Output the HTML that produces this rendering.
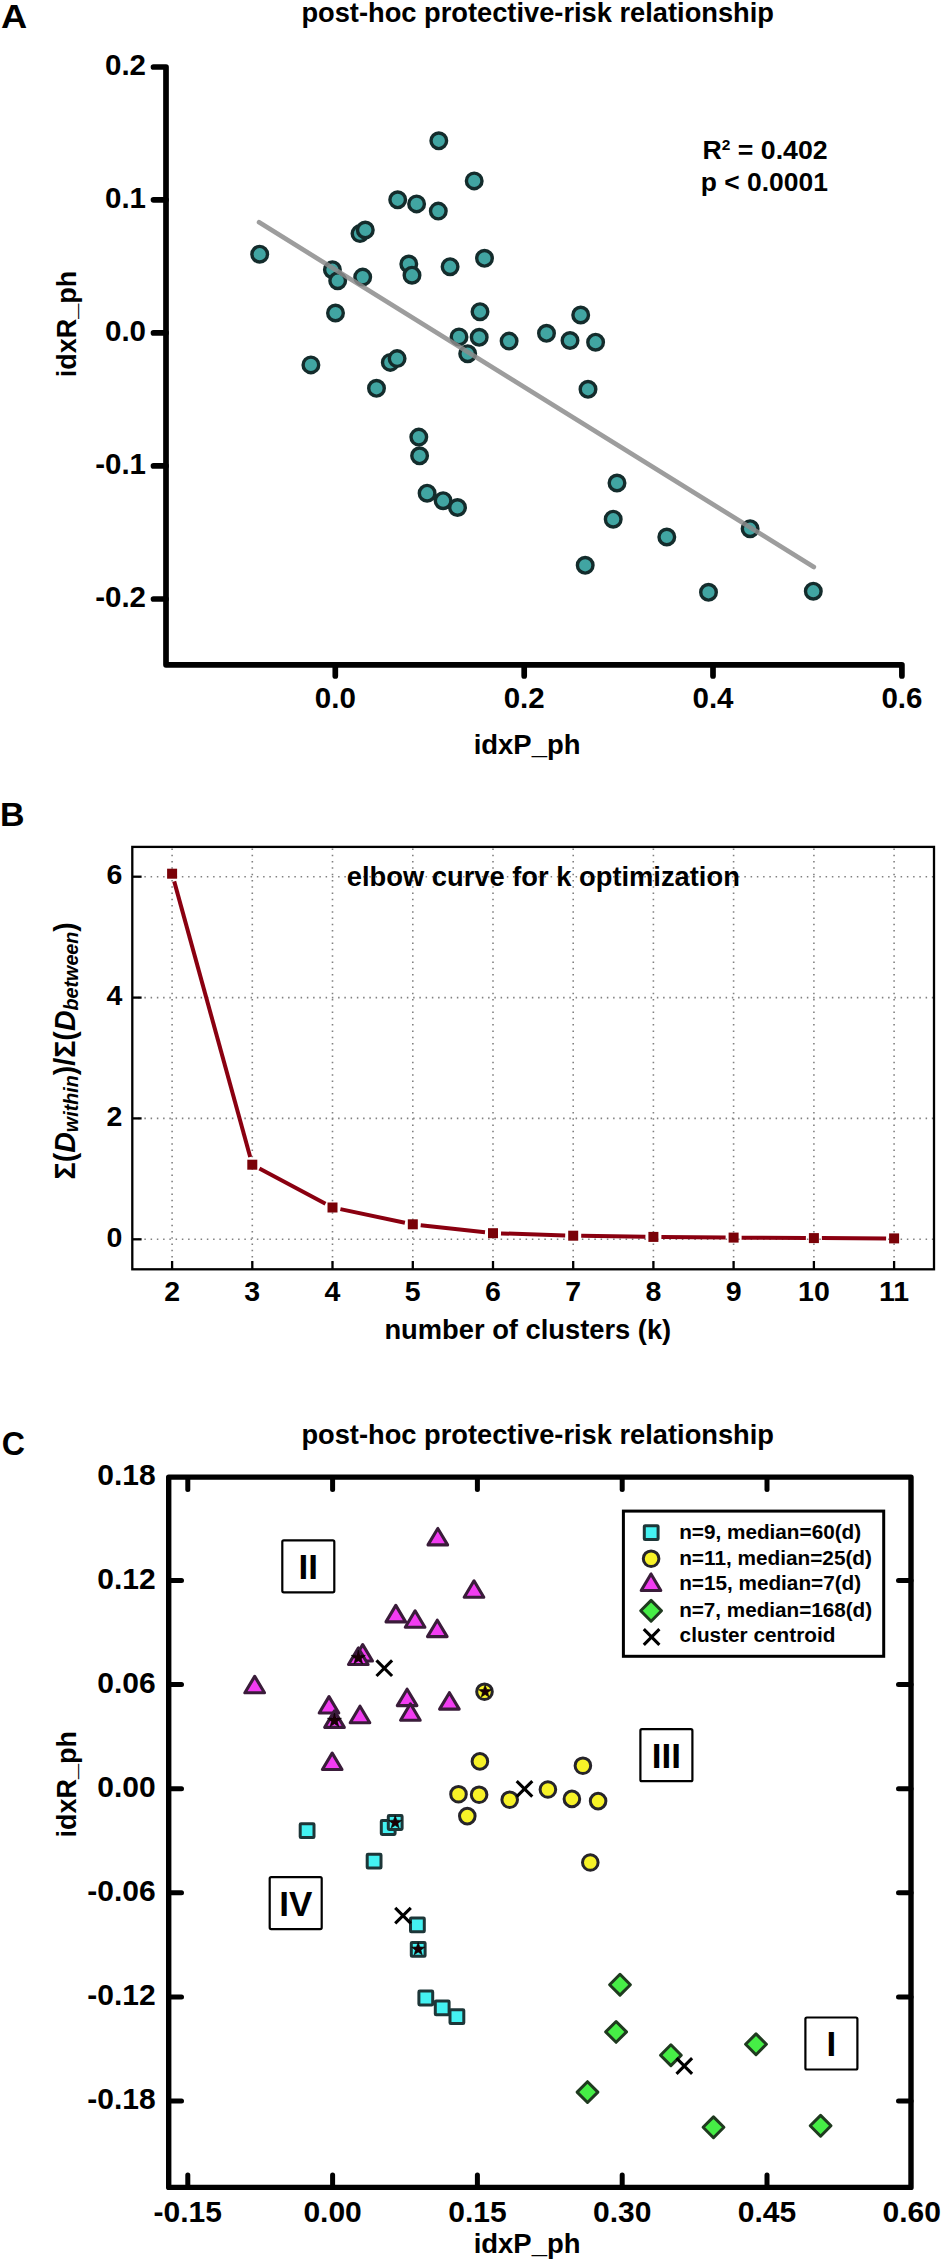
<!DOCTYPE html>
<html><head><meta charset="utf-8"><style>
html,body{margin:0;padding:0;background:#fff;}
svg{display:block;}

</style></head><body>
<svg width="942" height="2262" viewBox="0 0 942 2262">
<rect width="942" height="2262" fill="#fff"/>
<text id="lblA" x="0.97" y="27.70" font-family="Liberation Sans, sans-serif" font-weight="bold" font-size="34" textLength="26.20" lengthAdjust="spacingAndGlyphs">A</text>
<text id="titleA" x="301.40" y="22.40" font-family="Liberation Sans, sans-serif" font-weight="bold" font-size="27.2" textLength="472.61" lengthAdjust="spacingAndGlyphs">post-hoc protective-risk relationship</text>
<path d="M153.5 67 H166 V664.8 H901.9 V676" fill="none" stroke="#000" stroke-width="5.7" stroke-linejoin="round" stroke-linecap="round"/>
<text x="146" y="74.8" font-family="Liberation Sans, sans-serif" font-weight="bold" font-size="29.5" text-anchor="end">0.2</text>
<line x1="153.5" y1="199.8" x2="166" y2="199.8" stroke="#000" stroke-width="5.7" stroke-linecap="round"/>
<text x="146" y="207.8" font-family="Liberation Sans, sans-serif" font-weight="bold" font-size="29.5" text-anchor="end">0.1</text>
<line x1="153.5" y1="332.9" x2="166" y2="332.9" stroke="#000" stroke-width="5.7" stroke-linecap="round"/>
<text x="146" y="340.9" font-family="Liberation Sans, sans-serif" font-weight="bold" font-size="29.5" text-anchor="end">0.0</text>
<line x1="153.5" y1="465.9" x2="166" y2="465.9" stroke="#000" stroke-width="5.7" stroke-linecap="round"/>
<text x="146" y="473.9" font-family="Liberation Sans, sans-serif" font-weight="bold" font-size="29.5" text-anchor="end">-0.1</text>
<line x1="153.5" y1="599.0" x2="166" y2="599.0" stroke="#000" stroke-width="5.7" stroke-linecap="round"/>
<text x="146" y="607.0" font-family="Liberation Sans, sans-serif" font-weight="bold" font-size="29.5" text-anchor="end">-0.2</text>
<line x1="335.3" y1="664.8" x2="335.3" y2="676" stroke="#000" stroke-width="5.7" stroke-linecap="round"/>
<text x="335.3" y="707.8" font-family="Liberation Sans, sans-serif" font-weight="bold" font-size="29.5" text-anchor="middle">0.0</text>
<line x1="524.2" y1="664.8" x2="524.2" y2="676" stroke="#000" stroke-width="5.7" stroke-linecap="round"/>
<text x="524.2" y="707.8" font-family="Liberation Sans, sans-serif" font-weight="bold" font-size="29.5" text-anchor="middle">0.2</text>
<line x1="713.0" y1="664.8" x2="713.0" y2="676" stroke="#000" stroke-width="5.7" stroke-linecap="round"/>
<text x="713.0" y="707.8" font-family="Liberation Sans, sans-serif" font-weight="bold" font-size="29.5" text-anchor="middle">0.4</text>
<text x="901.9" y="707.8" font-family="Liberation Sans, sans-serif" font-weight="bold" font-size="29.5" text-anchor="middle">0.6</text>
<text id="idxPA" x="473.73" y="753.70" font-family="Liberation Sans, sans-serif" font-weight="bold" font-size="27" textLength="106.75" lengthAdjust="spacingAndGlyphs">idxP_ph</text>
<text transform="translate(75.7 324) rotate(-90)" font-family="Liberation Sans, sans-serif" font-weight="bold" font-size="27" text-anchor="middle">idxR_ph</text>
<text x="702.5" y="158.7" font-family="Liberation Sans, sans-serif" font-weight="bold" font-size="26.7">R<tspan font-size="15.5" dy="-8.5">2</tspan><tspan dy="8.5"> = 0.402</tspan></text>
<text id="pval" x="700.84" y="191.30" font-family="Liberation Sans, sans-serif" font-weight="bold" font-size="26.7" textLength="127.05" lengthAdjust="spacingAndGlyphs">p &lt; 0.0001</text>
<circle cx="259.7" cy="254.2" r="7.8" fill="#41a5a2" stroke="#142c2c" stroke-width="3.4"/>
<circle cx="397.7" cy="199.8" r="7.8" fill="#41a5a2" stroke="#142c2c" stroke-width="3.4"/>
<circle cx="416.6" cy="203.9" r="7.8" fill="#41a5a2" stroke="#142c2c" stroke-width="3.4"/>
<circle cx="438.8" cy="140.8" r="7.8" fill="#41a5a2" stroke="#142c2c" stroke-width="3.4"/>
<circle cx="474.2" cy="180.9" r="7.8" fill="#41a5a2" stroke="#142c2c" stroke-width="3.4"/>
<circle cx="438.3" cy="211.1" r="7.8" fill="#41a5a2" stroke="#142c2c" stroke-width="3.4"/>
<circle cx="360.0" cy="233.6" r="7.8" fill="#41a5a2" stroke="#142c2c" stroke-width="3.4"/>
<circle cx="365.3" cy="230.0" r="7.8" fill="#41a5a2" stroke="#142c2c" stroke-width="3.4"/>
<circle cx="332.4" cy="269.7" r="7.8" fill="#41a5a2" stroke="#142c2c" stroke-width="3.4"/>
<circle cx="337.7" cy="280.7" r="7.8" fill="#41a5a2" stroke="#142c2c" stroke-width="3.4"/>
<circle cx="362.7" cy="277.1" r="7.8" fill="#41a5a2" stroke="#142c2c" stroke-width="3.4"/>
<circle cx="408.8" cy="264.0" r="7.8" fill="#41a5a2" stroke="#142c2c" stroke-width="3.4"/>
<circle cx="412.0" cy="275.2" r="7.8" fill="#41a5a2" stroke="#142c2c" stroke-width="3.4"/>
<circle cx="450.1" cy="266.7" r="7.8" fill="#41a5a2" stroke="#142c2c" stroke-width="3.4"/>
<circle cx="484.5" cy="258.3" r="7.8" fill="#41a5a2" stroke="#142c2c" stroke-width="3.4"/>
<circle cx="480.0" cy="311.7" r="7.8" fill="#41a5a2" stroke="#142c2c" stroke-width="3.4"/>
<circle cx="335.5" cy="313.0" r="7.8" fill="#41a5a2" stroke="#142c2c" stroke-width="3.4"/>
<circle cx="310.9" cy="364.9" r="7.8" fill="#41a5a2" stroke="#142c2c" stroke-width="3.4"/>
<circle cx="390.3" cy="362.4" r="7.8" fill="#41a5a2" stroke="#142c2c" stroke-width="3.4"/>
<circle cx="397.1" cy="358.6" r="7.8" fill="#41a5a2" stroke="#142c2c" stroke-width="3.4"/>
<circle cx="376.5" cy="388.3" r="7.8" fill="#41a5a2" stroke="#142c2c" stroke-width="3.4"/>
<circle cx="418.8" cy="437.1" r="7.8" fill="#41a5a2" stroke="#142c2c" stroke-width="3.4"/>
<circle cx="419.6" cy="455.8" r="7.8" fill="#41a5a2" stroke="#142c2c" stroke-width="3.4"/>
<circle cx="459.0" cy="336.9" r="7.8" fill="#41a5a2" stroke="#142c2c" stroke-width="3.4"/>
<circle cx="479.2" cy="337.3" r="7.8" fill="#41a5a2" stroke="#142c2c" stroke-width="3.4"/>
<circle cx="467.7" cy="353.7" r="7.8" fill="#41a5a2" stroke="#142c2c" stroke-width="3.4"/>
<circle cx="509.1" cy="341.1" r="7.8" fill="#41a5a2" stroke="#142c2c" stroke-width="3.4"/>
<circle cx="546.5" cy="333.3" r="7.8" fill="#41a5a2" stroke="#142c2c" stroke-width="3.4"/>
<circle cx="570.0" cy="340.5" r="7.8" fill="#41a5a2" stroke="#142c2c" stroke-width="3.4"/>
<circle cx="580.7" cy="315.0" r="7.8" fill="#41a5a2" stroke="#142c2c" stroke-width="3.4"/>
<circle cx="595.6" cy="342.2" r="7.8" fill="#41a5a2" stroke="#142c2c" stroke-width="3.4"/>
<circle cx="588.0" cy="389.3" r="7.8" fill="#41a5a2" stroke="#142c2c" stroke-width="3.4"/>
<circle cx="427.1" cy="493.2" r="7.8" fill="#41a5a2" stroke="#142c2c" stroke-width="3.4"/>
<circle cx="443.1" cy="500.7" r="7.8" fill="#41a5a2" stroke="#142c2c" stroke-width="3.4"/>
<circle cx="457.5" cy="507.5" r="7.8" fill="#41a5a2" stroke="#142c2c" stroke-width="3.4"/>
<circle cx="617.0" cy="483.0" r="7.8" fill="#41a5a2" stroke="#142c2c" stroke-width="3.4"/>
<circle cx="613.2" cy="519.2" r="7.8" fill="#41a5a2" stroke="#142c2c" stroke-width="3.4"/>
<circle cx="666.8" cy="537.0" r="7.8" fill="#41a5a2" stroke="#142c2c" stroke-width="3.4"/>
<circle cx="585.2" cy="565.3" r="7.8" fill="#41a5a2" stroke="#142c2c" stroke-width="3.4"/>
<circle cx="708.5" cy="592.3" r="7.8" fill="#41a5a2" stroke="#142c2c" stroke-width="3.4"/>
<circle cx="750.1" cy="528.7" r="7.8" fill="#41a5a2" stroke="#142c2c" stroke-width="3.4"/>
<circle cx="813.3" cy="591.2" r="7.8" fill="#41a5a2" stroke="#142c2c" stroke-width="3.4"/>
<line x1="259.1" y1="222.3" x2="813.8" y2="567" stroke="#8c8c8c" stroke-opacity="0.85" stroke-width="4.7" stroke-linecap="round"/>
<text id="lblB" x="0.04" y="826.30" font-family="Liberation Sans, sans-serif" font-weight="bold" font-size="34" textLength="24.54" lengthAdjust="spacingAndGlyphs">B</text>
<line x1="172.1" y1="848.55" x2="172.1" y2="1268" stroke="#808080" stroke-width="1.6" stroke-dasharray="1.5 4.77"/>
<line x1="252.3" y1="848.55" x2="252.3" y2="1268" stroke="#808080" stroke-width="1.6" stroke-dasharray="1.5 4.77"/>
<line x1="332.5" y1="848.55" x2="332.5" y2="1268" stroke="#808080" stroke-width="1.6" stroke-dasharray="1.5 4.77"/>
<line x1="412.8" y1="848.55" x2="412.8" y2="1268" stroke="#808080" stroke-width="1.6" stroke-dasharray="1.5 4.77"/>
<line x1="493.0" y1="848.55" x2="493.0" y2="1268" stroke="#808080" stroke-width="1.6" stroke-dasharray="1.5 4.77"/>
<line x1="573.2" y1="848.55" x2="573.2" y2="1268" stroke="#808080" stroke-width="1.6" stroke-dasharray="1.5 4.77"/>
<line x1="653.4" y1="848.55" x2="653.4" y2="1268" stroke="#808080" stroke-width="1.6" stroke-dasharray="1.5 4.77"/>
<line x1="733.6" y1="848.55" x2="733.6" y2="1268" stroke="#808080" stroke-width="1.6" stroke-dasharray="1.5 4.77"/>
<line x1="813.9" y1="848.55" x2="813.9" y2="1268" stroke="#808080" stroke-width="1.6" stroke-dasharray="1.5 4.77"/>
<line x1="894.1" y1="848.55" x2="894.1" y2="1268" stroke="#808080" stroke-width="1.6" stroke-dasharray="1.5 4.77"/>
<line x1="138.1" y1="1239.3" x2="933" y2="1239.3" stroke="#808080" stroke-width="1.6" stroke-dasharray="1.5 4.75"/>
<line x1="138.1" y1="1118.4" x2="933" y2="1118.4" stroke="#808080" stroke-width="1.6" stroke-dasharray="1.5 4.75"/>
<line x1="138.1" y1="997.6" x2="933" y2="997.6" stroke="#808080" stroke-width="1.6" stroke-dasharray="1.5 4.75"/>
<line x1="138.1" y1="876.7" x2="933" y2="876.7" stroke="#808080" stroke-width="1.6" stroke-dasharray="1.5 4.75"/>
<rect x="132.3" y="846.9" width="801.7" height="422.4" fill="none" stroke="#000" stroke-width="2.3"/>
<line x1="133" y1="1239.3" x2="141.6" y2="1239.3" stroke="#000" stroke-width="2.3"/>
<text x="122.3" y="1247.0" font-family="Liberation Sans, sans-serif" font-weight="bold" font-size="28.5" text-anchor="end">0</text>
<line x1="133" y1="1118.4" x2="141.6" y2="1118.4" stroke="#000" stroke-width="2.3"/>
<text x="122.3" y="1126.1" font-family="Liberation Sans, sans-serif" font-weight="bold" font-size="28.5" text-anchor="end">2</text>
<line x1="133" y1="997.6" x2="141.6" y2="997.6" stroke="#000" stroke-width="2.3"/>
<text x="122.3" y="1005.3" font-family="Liberation Sans, sans-serif" font-weight="bold" font-size="28.5" text-anchor="end">4</text>
<line x1="133" y1="876.7" x2="141.6" y2="876.7" stroke="#000" stroke-width="2.3"/>
<text x="122.3" y="884.4" font-family="Liberation Sans, sans-serif" font-weight="bold" font-size="28.5" text-anchor="end">6</text>
<line x1="172.1" y1="1261" x2="172.1" y2="1269" stroke="#000" stroke-width="2.3"/>
<text x="172.1" y="1301.4" font-family="Liberation Sans, sans-serif" font-weight="bold" font-size="28.5" text-anchor="middle">2</text>
<line x1="252.3" y1="1261" x2="252.3" y2="1269" stroke="#000" stroke-width="2.3"/>
<text x="252.3" y="1301.4" font-family="Liberation Sans, sans-serif" font-weight="bold" font-size="28.5" text-anchor="middle">3</text>
<line x1="332.5" y1="1261" x2="332.5" y2="1269" stroke="#000" stroke-width="2.3"/>
<text x="332.5" y="1301.4" font-family="Liberation Sans, sans-serif" font-weight="bold" font-size="28.5" text-anchor="middle">4</text>
<line x1="412.8" y1="1261" x2="412.8" y2="1269" stroke="#000" stroke-width="2.3"/>
<text x="412.8" y="1301.4" font-family="Liberation Sans, sans-serif" font-weight="bold" font-size="28.5" text-anchor="middle">5</text>
<line x1="493.0" y1="1261" x2="493.0" y2="1269" stroke="#000" stroke-width="2.3"/>
<text x="493.0" y="1301.4" font-family="Liberation Sans, sans-serif" font-weight="bold" font-size="28.5" text-anchor="middle">6</text>
<line x1="573.2" y1="1261" x2="573.2" y2="1269" stroke="#000" stroke-width="2.3"/>
<text x="573.2" y="1301.4" font-family="Liberation Sans, sans-serif" font-weight="bold" font-size="28.5" text-anchor="middle">7</text>
<line x1="653.4" y1="1261" x2="653.4" y2="1269" stroke="#000" stroke-width="2.3"/>
<text x="653.4" y="1301.4" font-family="Liberation Sans, sans-serif" font-weight="bold" font-size="28.5" text-anchor="middle">8</text>
<line x1="733.6" y1="1261" x2="733.6" y2="1269" stroke="#000" stroke-width="2.3"/>
<text x="733.6" y="1301.4" font-family="Liberation Sans, sans-serif" font-weight="bold" font-size="28.5" text-anchor="middle">9</text>
<line x1="813.9" y1="1261" x2="813.9" y2="1269" stroke="#000" stroke-width="2.3"/>
<text x="813.9" y="1301.4" font-family="Liberation Sans, sans-serif" font-weight="bold" font-size="28.5" text-anchor="middle">10</text>
<line x1="894.1" y1="1261" x2="894.1" y2="1269" stroke="#000" stroke-width="2.3"/>
<text x="894.1" y="1301.4" font-family="Liberation Sans, sans-serif" font-weight="bold" font-size="28.5" text-anchor="middle">11</text>
<text id="nclust" x="384.41" y="1338.90" font-family="Liberation Sans, sans-serif" font-weight="bold" font-size="27" textLength="286.81" lengthAdjust="spacingAndGlyphs">number of clusters (k)</text>
<text id="elbow" x="346.80" y="886.00" font-family="Liberation Sans, sans-serif" font-weight="bold" font-size="27" textLength="393.03" lengthAdjust="spacingAndGlyphs">elbow curve for k optimization</text>
<text transform="translate(75.2 1050.8) rotate(-90)" font-family="Liberation Sans, sans-serif" font-weight="bold" font-size="28.6" text-anchor="middle">Σ(<tspan font-style="italic">D</tspan><tspan font-style="italic" font-size="19.7" dy="3">within</tspan><tspan dy="-3">)/Σ(</tspan><tspan font-style="italic">D</tspan><tspan font-style="italic" font-size="19.7" dy="3">between</tspan><tspan dy="-3">)</tspan></text>
<line x1="174.2" y1="881.4" x2="250.2" y2="1157.0" stroke="#8a0010" stroke-width="4.0"/>
<line x1="259.4" y1="1168.5" x2="325.5" y2="1203.7" stroke="#8a0010" stroke-width="4.0"/>
<line x1="340.4" y1="1209.1" x2="404.9" y2="1222.7" stroke="#8a0010" stroke-width="4.0"/>
<line x1="420.7" y1="1225.2" x2="485.0" y2="1232.3" stroke="#8a0010" stroke-width="4.0"/>
<line x1="501.0" y1="1233.4" x2="565.2" y2="1235.4" stroke="#8a0010" stroke-width="4.0"/>
<line x1="581.2" y1="1235.8" x2="645.4" y2="1236.8" stroke="#8a0010" stroke-width="4.0"/>
<line x1="661.4" y1="1237.0" x2="725.6" y2="1237.5" stroke="#8a0010" stroke-width="4.0"/>
<line x1="741.6" y1="1237.7" x2="805.9" y2="1238.0" stroke="#8a0010" stroke-width="4.0"/>
<line x1="821.9" y1="1238.1" x2="886.1" y2="1238.4" stroke="#8a0010" stroke-width="4.0"/>
<rect x="167.1" y="868.7" width="10" height="10" fill="#7a0208"/>
<rect x="247.3" y="1159.7" width="10" height="10" fill="#7a0208"/>
<rect x="327.5" y="1202.5" width="10" height="10" fill="#7a0208"/>
<rect x="407.8" y="1219.3" width="10" height="10" fill="#7a0208"/>
<rect x="488.0" y="1228.2" width="10" height="10" fill="#7a0208"/>
<rect x="568.2" y="1230.7" width="10" height="10" fill="#7a0208"/>
<rect x="648.4" y="1231.9" width="10" height="10" fill="#7a0208"/>
<rect x="728.6" y="1232.6" width="10" height="10" fill="#7a0208"/>
<rect x="808.9" y="1233.1" width="10" height="10" fill="#7a0208"/>
<rect x="889.1" y="1233.4" width="10" height="10" fill="#7a0208"/>
<text id="lblC" x="1.82" y="1454.80" font-family="Liberation Sans, sans-serif" font-weight="bold" font-size="34" textLength="23.21" lengthAdjust="spacingAndGlyphs">C</text>
<text id="titleC" x="301.40" y="1443.50" font-family="Liberation Sans, sans-serif" font-weight="bold" font-size="27.2" textLength="472.61" lengthAdjust="spacingAndGlyphs">post-hoc protective-risk relationship</text>
<rect x="168.7" y="1477.1" width="742.3" height="710.3" fill="none" stroke="#000" stroke-width="5.4" stroke-linejoin="round"/>
<text x="155.6" y="1484.6" font-family="Liberation Sans, sans-serif" font-weight="bold" font-size="30" text-anchor="end">0.18</text>
<line x1="169" y1="1580.5" x2="181.5" y2="1580.5" stroke="#000" stroke-width="5" stroke-linecap="round"/>
<line x1="911" y1="1580.5" x2="898.5" y2="1580.5" stroke="#000" stroke-width="5" stroke-linecap="round"/>
<text x="155.6" y="1588.7" font-family="Liberation Sans, sans-serif" font-weight="bold" font-size="30" text-anchor="end">0.12</text>
<line x1="169" y1="1684.6" x2="181.5" y2="1684.6" stroke="#000" stroke-width="5" stroke-linecap="round"/>
<line x1="911" y1="1684.6" x2="898.5" y2="1684.6" stroke="#000" stroke-width="5" stroke-linecap="round"/>
<text x="155.6" y="1692.8" font-family="Liberation Sans, sans-serif" font-weight="bold" font-size="30" text-anchor="end">0.06</text>
<line x1="169" y1="1788.7" x2="181.5" y2="1788.7" stroke="#000" stroke-width="5" stroke-linecap="round"/>
<line x1="911" y1="1788.7" x2="898.5" y2="1788.7" stroke="#000" stroke-width="5" stroke-linecap="round"/>
<text x="155.6" y="1796.9" font-family="Liberation Sans, sans-serif" font-weight="bold" font-size="30" text-anchor="end">0.00</text>
<line x1="169" y1="1892.8" x2="181.5" y2="1892.8" stroke="#000" stroke-width="5" stroke-linecap="round"/>
<line x1="911" y1="1892.8" x2="898.5" y2="1892.8" stroke="#000" stroke-width="5" stroke-linecap="round"/>
<text x="155.6" y="1901.0" font-family="Liberation Sans, sans-serif" font-weight="bold" font-size="30" text-anchor="end">-0.06</text>
<line x1="169" y1="1996.9" x2="181.5" y2="1996.9" stroke="#000" stroke-width="5" stroke-linecap="round"/>
<line x1="911" y1="1996.9" x2="898.5" y2="1996.9" stroke="#000" stroke-width="5" stroke-linecap="round"/>
<text x="155.6" y="2005.1" font-family="Liberation Sans, sans-serif" font-weight="bold" font-size="30" text-anchor="end">-0.12</text>
<line x1="169" y1="2101.0" x2="181.5" y2="2101.0" stroke="#000" stroke-width="5" stroke-linecap="round"/>
<line x1="911" y1="2101.0" x2="898.5" y2="2101.0" stroke="#000" stroke-width="5" stroke-linecap="round"/>
<text x="155.6" y="2109.2" font-family="Liberation Sans, sans-serif" font-weight="bold" font-size="30" text-anchor="end">-0.18</text>
<line x1="187.8" y1="2187" x2="187.8" y2="2175" stroke="#000" stroke-width="5" stroke-linecap="round"/>
<line x1="187.8" y1="1477.5" x2="187.8" y2="1489.5" stroke="#000" stroke-width="5" stroke-linecap="round"/>
<text x="187.8" y="2222.2" font-family="Liberation Sans, sans-serif" font-weight="bold" font-size="30" text-anchor="middle">-0.15</text>
<line x1="332.6" y1="2187" x2="332.6" y2="2175" stroke="#000" stroke-width="5" stroke-linecap="round"/>
<line x1="332.6" y1="1477.5" x2="332.6" y2="1489.5" stroke="#000" stroke-width="5" stroke-linecap="round"/>
<text x="332.6" y="2222.2" font-family="Liberation Sans, sans-serif" font-weight="bold" font-size="30" text-anchor="middle">0.00</text>
<line x1="477.4" y1="2187" x2="477.4" y2="2175" stroke="#000" stroke-width="5" stroke-linecap="round"/>
<line x1="477.4" y1="1477.5" x2="477.4" y2="1489.5" stroke="#000" stroke-width="5" stroke-linecap="round"/>
<text x="477.4" y="2222.2" font-family="Liberation Sans, sans-serif" font-weight="bold" font-size="30" text-anchor="middle">0.15</text>
<line x1="622.2" y1="2187" x2="622.2" y2="2175" stroke="#000" stroke-width="5" stroke-linecap="round"/>
<line x1="622.2" y1="1477.5" x2="622.2" y2="1489.5" stroke="#000" stroke-width="5" stroke-linecap="round"/>
<text x="622.2" y="2222.2" font-family="Liberation Sans, sans-serif" font-weight="bold" font-size="30" text-anchor="middle">0.30</text>
<line x1="767.0" y1="2187" x2="767.0" y2="2175" stroke="#000" stroke-width="5" stroke-linecap="round"/>
<line x1="767.0" y1="1477.5" x2="767.0" y2="1489.5" stroke="#000" stroke-width="5" stroke-linecap="round"/>
<text x="767.0" y="2222.2" font-family="Liberation Sans, sans-serif" font-weight="bold" font-size="30" text-anchor="middle">0.45</text>
<text x="911.8" y="2222.2" font-family="Liberation Sans, sans-serif" font-weight="bold" font-size="30" text-anchor="middle">0.60</text>
<text id="idxPC" x="473.73" y="2252.80" font-family="Liberation Sans, sans-serif" font-weight="bold" font-size="27" textLength="106.75" lengthAdjust="spacingAndGlyphs">idxP_ph</text>
<text transform="translate(75.7 1784.3) rotate(-90)" font-family="Liberation Sans, sans-serif" font-weight="bold" font-size="27" text-anchor="middle">idxR_ph</text>
<rect x="282.3" y="1540.3" width="52" height="52" rx="1.5" fill="#fff" stroke="#000" stroke-width="2.2"/>
<text x="308.3" y="1578.7" font-family="Liberation Sans, sans-serif" font-weight="bold" font-size="35" text-anchor="middle">II</text>
<rect x="640.4" y="1729.2" width="52" height="52" rx="1.5" fill="#fff" stroke="#000" stroke-width="2.2"/>
<text x="666.4" y="1767.6" font-family="Liberation Sans, sans-serif" font-weight="bold" font-size="35" text-anchor="middle">III</text>
<rect x="269.7" y="1877.1" width="52" height="52" rx="1.5" fill="#fff" stroke="#000" stroke-width="2.2"/>
<text x="295.7" y="1915.5" font-family="Liberation Sans, sans-serif" font-weight="bold" font-size="35" text-anchor="middle">IV</text>
<rect x="805.4" y="2017.5" width="52" height="52" rx="1.5" fill="#fff" stroke="#000" stroke-width="2.2"/>
<text x="831.4" y="2055.9" font-family="Liberation Sans, sans-serif" font-weight="bold" font-size="35" text-anchor="middle">I</text>
<path d="M362.7 1644.6 L352.9 1661.0 L372.5 1661.0Z" fill="#f23cf2" stroke="#3a1c3a" stroke-width="3.1" stroke-linejoin="round"/>
<path d="M358.3 1648.0 L348.5 1664.5 L368.1 1664.5Z" fill="#f23cf2" stroke="#3a1c3a" stroke-width="3.1" stroke-linejoin="round"/>
<path d="M254.7 1676.4 L244.9 1692.8 L264.5 1692.8Z" fill="#f23cf2" stroke="#3a1c3a" stroke-width="3.1" stroke-linejoin="round"/>
<path d="M395.8 1605.4 L386.0 1621.9 L405.6 1621.9Z" fill="#f23cf2" stroke="#3a1c3a" stroke-width="3.1" stroke-linejoin="round"/>
<path d="M415.1 1610.8 L405.3 1627.2 L424.9 1627.2Z" fill="#f23cf2" stroke="#3a1c3a" stroke-width="3.1" stroke-linejoin="round"/>
<path d="M437.8 1528.5 L428.0 1544.9 L447.6 1544.9Z" fill="#f23cf2" stroke="#3a1c3a" stroke-width="3.1" stroke-linejoin="round"/>
<path d="M474.0 1580.8 L464.2 1597.2 L483.8 1597.2Z" fill="#f23cf2" stroke="#3a1c3a" stroke-width="3.1" stroke-linejoin="round"/>
<path d="M437.3 1620.2 L427.5 1636.6 L447.1 1636.6Z" fill="#f23cf2" stroke="#3a1c3a" stroke-width="3.1" stroke-linejoin="round"/>
<path d="M329.0 1696.6 L319.2 1713.0 L338.8 1713.0Z" fill="#f23cf2" stroke="#3a1c3a" stroke-width="3.1" stroke-linejoin="round"/>
<path d="M334.5 1710.9 L324.7 1727.4 L344.3 1727.4Z" fill="#f23cf2" stroke="#3a1c3a" stroke-width="3.1" stroke-linejoin="round"/>
<path d="M360.0 1706.2 L350.2 1722.7 L369.8 1722.7Z" fill="#f23cf2" stroke="#3a1c3a" stroke-width="3.1" stroke-linejoin="round"/>
<path d="M407.1 1689.2 L397.3 1705.6 L416.9 1705.6Z" fill="#f23cf2" stroke="#3a1c3a" stroke-width="3.1" stroke-linejoin="round"/>
<path d="M410.4 1703.8 L400.6 1720.2 L420.2 1720.2Z" fill="#f23cf2" stroke="#3a1c3a" stroke-width="3.1" stroke-linejoin="round"/>
<path d="M449.4 1692.7 L439.6 1709.1 L459.2 1709.1Z" fill="#f23cf2" stroke="#3a1c3a" stroke-width="3.1" stroke-linejoin="round"/>
<path d="M332.2 1753.1 L322.4 1769.5 L342.0 1769.5Z" fill="#f23cf2" stroke="#3a1c3a" stroke-width="3.1" stroke-linejoin="round"/>
<circle cx="484.5" cy="1691.7" r="7.8" fill="#f7f228" stroke="#26242a" stroke-width="3"/>
<circle cx="479.9" cy="1761.4" r="7.8" fill="#f7f228" stroke="#26242a" stroke-width="3"/>
<circle cx="458.5" cy="1794.2" r="7.8" fill="#f7f228" stroke="#26242a" stroke-width="3"/>
<circle cx="479.1" cy="1794.7" r="7.8" fill="#f7f228" stroke="#26242a" stroke-width="3"/>
<circle cx="467.3" cy="1816.1" r="7.8" fill="#f7f228" stroke="#26242a" stroke-width="3"/>
<circle cx="509.7" cy="1799.7" r="7.8" fill="#f7f228" stroke="#26242a" stroke-width="3"/>
<circle cx="547.9" cy="1789.5" r="7.8" fill="#f7f228" stroke="#26242a" stroke-width="3"/>
<circle cx="571.9" cy="1798.9" r="7.8" fill="#f7f228" stroke="#26242a" stroke-width="3"/>
<circle cx="582.9" cy="1765.7" r="7.8" fill="#f7f228" stroke="#26242a" stroke-width="3"/>
<circle cx="598.1" cy="1801.1" r="7.8" fill="#f7f228" stroke="#26242a" stroke-width="3"/>
<circle cx="590.3" cy="1862.5" r="7.8" fill="#f7f228" stroke="#26242a" stroke-width="3"/>
<rect x="300.2" y="1823.8" width="13.8" height="13.8" rx="0.8" fill="#44f2f2" stroke="#1d3638" stroke-width="3"/>
<rect x="381.3" y="1820.6" width="13.8" height="13.8" rx="0.8" fill="#44f2f2" stroke="#1d3638" stroke-width="3"/>
<rect x="388.3" y="1815.6" width="13.8" height="13.8" rx="0.8" fill="#44f2f2" stroke="#1d3638" stroke-width="3"/>
<rect x="367.2" y="1854.3" width="13.8" height="13.8" rx="0.8" fill="#44f2f2" stroke="#1d3638" stroke-width="3"/>
<rect x="410.5" y="1918.0" width="13.8" height="13.8" rx="0.8" fill="#44f2f2" stroke="#1d3638" stroke-width="3"/>
<rect x="411.3" y="1942.4" width="13.8" height="13.8" rx="0.8" fill="#44f2f2" stroke="#1d3638" stroke-width="3"/>
<rect x="418.9" y="1991.1" width="13.8" height="13.8" rx="0.8" fill="#44f2f2" stroke="#1d3638" stroke-width="3"/>
<rect x="435.3" y="2000.9" width="13.8" height="13.8" rx="0.8" fill="#44f2f2" stroke="#1d3638" stroke-width="3"/>
<rect x="450.0" y="2009.8" width="13.8" height="13.8" rx="0.8" fill="#44f2f2" stroke="#1d3638" stroke-width="3"/>
<path d="M620.0 1974.3 L630.4 1984.7 L620.0 1995.1 L609.6 1984.7Z" fill="#46ee46" stroke="#1f3a1f" stroke-width="3" stroke-linejoin="round"/>
<path d="M616.1 2021.5 L626.5 2031.9 L616.1 2042.3 L605.7 2031.9Z" fill="#46ee46" stroke="#1f3a1f" stroke-width="3" stroke-linejoin="round"/>
<path d="M670.9 2044.8 L681.3 2055.2 L670.9 2065.6 L660.5 2055.2Z" fill="#46ee46" stroke="#1f3a1f" stroke-width="3" stroke-linejoin="round"/>
<path d="M587.5 2081.7 L597.9 2092.1 L587.5 2102.5 L577.1 2092.1Z" fill="#46ee46" stroke="#1f3a1f" stroke-width="3" stroke-linejoin="round"/>
<path d="M713.5 2116.9 L723.9 2127.3 L713.5 2137.7 L703.1 2127.3Z" fill="#46ee46" stroke="#1f3a1f" stroke-width="3" stroke-linejoin="round"/>
<path d="M756.0 2033.9 L766.4 2044.3 L756.0 2054.7 L745.6 2044.3Z" fill="#46ee46" stroke="#1f3a1f" stroke-width="3" stroke-linejoin="round"/>
<path d="M820.6 2115.4 L831.0 2125.8 L820.6 2136.2 L810.2 2125.8Z" fill="#46ee46" stroke="#1f3a1f" stroke-width="3" stroke-linejoin="round"/>
<polygon points="358.30,1650.30 360.13,1655.19 365.34,1655.41 361.26,1658.66 362.65,1663.69 358.30,1660.81 353.95,1663.69 355.34,1658.66 351.26,1655.41 356.47,1655.19" fill="#1a0005" stroke="#000" stroke-width="0.6"/>
<polygon points="334.45,1713.23 336.28,1718.12 341.49,1718.34 337.41,1721.59 338.80,1726.62 334.45,1723.74 330.10,1726.62 331.50,1721.59 327.42,1718.34 332.63,1718.12" fill="#1a0005" stroke="#000" stroke-width="0.6"/>
<polygon points="485.12,1685.12 486.75,1689.48 491.40,1689.68 487.75,1692.58 489.00,1697.06 485.12,1694.49 481.24,1697.06 482.48,1692.58 478.84,1689.68 483.49,1689.48" fill="#1a0005" stroke="#000" stroke-width="0.6"/>
<polygon points="395.17,1815.71 396.85,1820.20 401.64,1820.41 397.89,1823.40 399.17,1828.01 395.17,1825.37 391.18,1828.01 392.46,1823.40 388.71,1820.41 393.50,1820.20" fill="#1a0005" stroke="#000" stroke-width="0.6"/>
<polygon points="418.17,1942.46 419.85,1946.95 424.64,1947.16 420.89,1950.15 422.17,1954.77 418.17,1952.12 414.18,1954.77 415.46,1950.15 411.71,1947.16 416.50,1946.95" fill="#1a0005" stroke="#000" stroke-width="0.6"/>
<path d="M376.5 1660.4 L392.1 1676.0 M392.1 1660.4 L376.5 1676.0" stroke="#000" stroke-width="3.1"/>
<path d="M516.7 1781.1 L532.3 1796.7 M532.3 1781.1 L516.7 1796.7" stroke="#000" stroke-width="3.1"/>
<path d="M395.2 1907.8 L410.8 1923.4 M410.8 1907.8 L395.2 1923.4" stroke="#000" stroke-width="3.1"/>
<path d="M676.5 2058.2 L692.1 2073.8 M692.1 2058.2 L676.5 2073.8" stroke="#000" stroke-width="3.1"/>
<rect x="623.4" y="1511.1" width="260.3" height="145.2" fill="#fff" stroke="#000" stroke-width="3"/>
<rect x="644.3" y="1525.7" width="13.8" height="13.8" rx="0.8" fill="#44f2f2" stroke="#1d3638" stroke-width="3"/>
<circle cx="651.1" cy="1558.7" r="7.8" fill="#f7f228" stroke="#26242a" stroke-width="3"/>
<path d="M651.0 1574.0 L641.2 1590.5 L660.8 1590.5Z" fill="#f23cf2" stroke="#3a1c3a" stroke-width="3.1" stroke-linejoin="round"/>
<path d="M651.1 1600.4 L661.5 1610.8 L651.1 1621.2 L640.7 1610.8Z" fill="#46ee46" stroke="#1f3a1f" stroke-width="3" stroke-linejoin="round"/>
<path d="M643.8 1629.2 L659.4 1644.8 M659.4 1629.2 L643.8 1644.8" stroke="#000" stroke-width="3.1"/>
<text id="leg0" x="679.16" y="1538.80" font-family="Liberation Sans, sans-serif" font-weight="bold" font-size="20" textLength="182.00" lengthAdjust="spacingAndGlyphs">n=9, median=60(d)</text>
<text id="leg1" x="679.16" y="1564.50" font-family="Liberation Sans, sans-serif" font-weight="bold" font-size="20" textLength="192.83" lengthAdjust="spacingAndGlyphs">n=11, median=25(d)</text>
<text id="leg2" x="679.16" y="1590.20" font-family="Liberation Sans, sans-serif" font-weight="bold" font-size="20" textLength="182.00" lengthAdjust="spacingAndGlyphs">n=15, median=7(d)</text>
<text id="leg3" x="679.17" y="1617.00" font-family="Liberation Sans, sans-serif" font-weight="bold" font-size="20" textLength="192.93" lengthAdjust="spacingAndGlyphs">n=7, median=168(d)</text>
<text id="leg4" x="679.61" y="1642.20" font-family="Liberation Sans, sans-serif" font-weight="bold" font-size="20" textLength="155.73" lengthAdjust="spacingAndGlyphs">cluster centroid</text>
</svg>
</body></html>
